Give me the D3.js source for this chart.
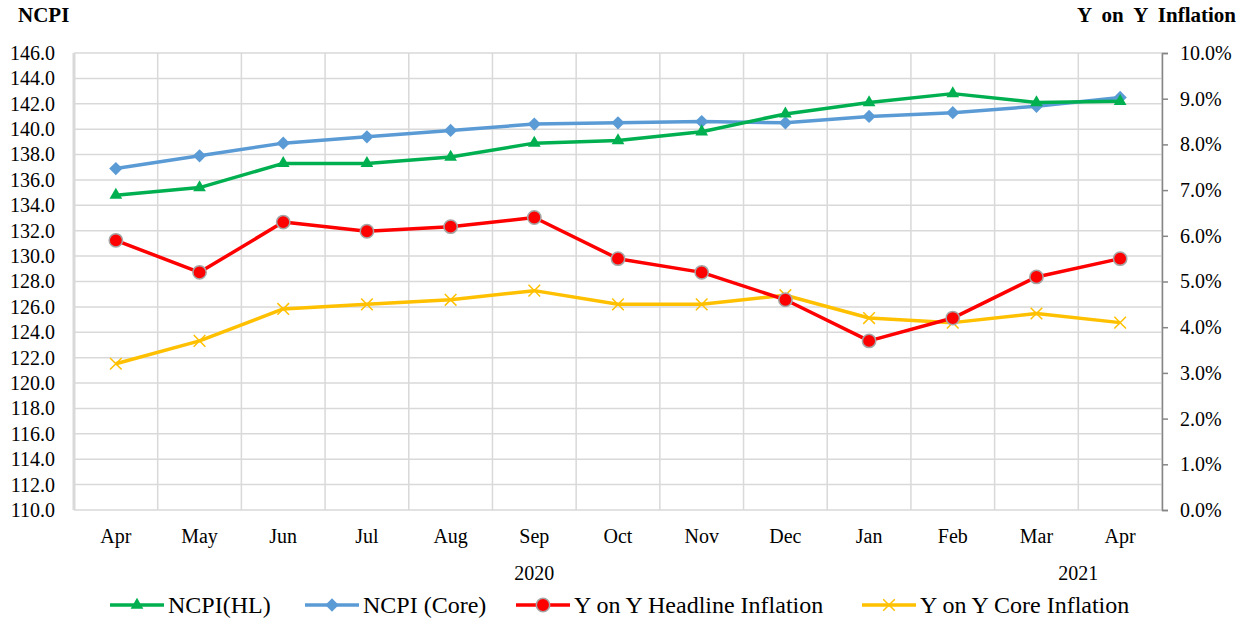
<!DOCTYPE html>
<html lang="en">
<head>
    <meta charset="UTF-8">
    <title>NCPI and Y on Y Inflation</title>
    <script src="https://d3js.org/d3.v7.min.js"></script>
    <style>
        body { margin: 0; background: #fff; }
        svg text { font-family: "Liberation Serif", "Times New Roman", serif !important; fill: #000; }
    </style>
</head>
<body>
<div id="chart"></div>
<script>
    // data
    const months = ["Apr", "May", "Jun", "Jul", "Aug", "Sep", "Oct", "Nov", "Dec", "Jan", "Feb", "Mar", "Apr"];
    const years = [{ label: "2020", from: 0, to: 10 }, { label: "2021", from: 11, to: 12 }];
    const ncpiHL = [134.8, 135.4, 137.3, 137.3, 137.8, 138.9, 139.1, 139.8, 141.2, 142.1, 142.8, 142.1, 142.2];
    const ncpiCore = [136.9, 137.9, 138.9, 139.4, 139.9, 140.4, 140.5, 140.6, 140.5, 141.0, 141.3, 141.8, 142.5];
    const yoyHeadline = [5.9, 5.2, 6.3, 6.1, 6.2, 6.4, 5.5, 5.2, 4.6, 3.7, 4.2, 5.1, 5.5];
    const yoyCore = [3.2, 3.7, 4.4, 4.5, 4.6, 4.8, 4.5, 4.5, 4.7, 4.2, 4.1, 4.3, 4.1];
    const leftTicks = d3.range(110, 146.1, 2);
    const rightTicks = d3.range(0, 10.1, 1);

    const width = 1253, height = 626;
    const m = { left: 74, right: 91, top: 53, bottom: 116 };
    const serif = '"Liberation Serif", "Times New Roman", serif';

    const svg = d3.select("#chart").append("svg")
        .attr("width", width)
        .attr("height", height);

    const x = d3.scaleBand()
        .domain(d3.range(months.length))
        .range([m.left, width - m.right])
        .padding(0);
    const yL = d3.scaleLinear().domain([110, 146]).range([height - m.bottom, m.top]);
    const yR = d3.scaleLinear().domain([0, 10]).range([height - m.bottom, m.top]);
    const cx = i => x(i) + x.bandwidth() / 2;

    // grid
    const grid = svg.append("g").attr("stroke", "#d9d9d9").attr("stroke-width", 1.5);
    grid.selectAll(".h").data(leftTicks).enter().append("line")
        .attr("x1", m.left).attr("x2", width - m.right)
        .attr("y1", d => yL(d)).attr("y2", d => yL(d));
    grid.selectAll(".v").data(d3.range(months.length + 1)).enter().append("line")
        .attr("x1", i => m.left + i * x.bandwidth()).attr("x2", i => m.left + i * x.bandwidth())
        .attr("y1", m.top).attr("y2", height - m.bottom);
    svg.append("line")
        .attr("x1", m.left).attr("x2", m.left)
        .attr("y1", m.top).attr("y2", height - m.bottom)
        .attr("stroke", "#d9d9d9").attr("stroke-width", 3);

    // left axis
    const gl = svg.append("g")
        .attr("transform", `translate(${m.left - 2},0)`)
        .call(d3.axisLeft(yL).tickValues(leftTicks).tickSize(0).tickPadding(17).tickFormat(d3.format(".1f")));
    gl.attr("font-family", serif);
    gl.select(".domain").remove();
    gl.selectAll("text").style("font-size", "20px").style("font-family", serif);

    // right axis
    const gr = svg.append("g")
        .attr("transform", `translate(${width - m.right},0)`)
        .call(d3.axisRight(yR).tickValues(rightTicks).tickSize(6).tickPadding(12).tickFormat(d => d.toFixed(1) + "%"));
    gr.attr("font-family", serif);
    gr.select(".domain").attr("stroke", "#868686").attr("stroke-width", 1.5);
    gr.selectAll(".tick line").attr("stroke", "#868686").attr("stroke-width", 1.5);
    gr.selectAll("text").style("font-size", "20px").style("font-family", serif);

    // category labels
    svg.append("g").selectAll("text").data(months).enter().append("text")
        .attr("x", (d, i) => cx(i))
        .attr("y", 543)
        .attr("text-anchor", "middle")
        .style("font-size", "20px")
        .text(d => d);
    svg.append("g").selectAll("text").data(years).enter().append("text")
        .attr("x", d => (cx(d.from) + cx(d.to)) / 2)
        .attr("y", 580)
        .attr("text-anchor", "middle")
        .style("font-size", "20px")
        .text(d => d.label);

    // axis titles
    svg.append("text").attr("x", 18).attr("y", 22)
        .style("font-size", "21px").style("font-weight", "bold").text("NCPI");
    svg.append("text").attr("x", 1236).attr("y", 22).attr("text-anchor", "end")
        .style("font-size", "21px").style("font-weight", "bold").style("word-spacing", "5px")
        .text("Y on Y Inflation");

    // markers
    const sq = d3.symbol().type(d3.symbolSquare).size(88);
    const tri = d3.symbol().type(d3.symbolTriangle).size(70);
    const circ = d3.symbol().type(d3.symbolCircle).size(140);
    const cross = d3.symbol().type(d3.symbolTimes || d3.symbolCross).size(90);

    const series = [
        { name: "NCPI(HL)", values: ncpiHL, y: yL, color: "#00b050", marker: g => g.append("path").attr("d", tri).attr("fill", "#00b050") },
        { name: "NCPI (Core)", values: ncpiCore, y: yL, color: "#5b9bd5", marker: g => g.append("path").attr("d", sq).attr("transform", "rotate(45)").attr("fill", "#5b9bd5") },
        { name: "Y on Y Headline Inflation", values: yoyHeadline, y: yR, color: "#ff0000", marker: g => g.append("path").attr("d", circ).attr("fill", "#ff0000").attr("stroke", "#a6a6a6").attr("stroke-width", 1.5) },
        { name: "Y on Y Core Inflation", values: yoyCore, y: yR, color: "#ffc000", marker: g => g.append("path").attr("d", cross).attr("fill", "none").attr("stroke", "#ffc000").attr("stroke-width", 1.5) }
    ];

    const drawOrder = [3, 2, 1, 0];
    drawOrder.forEach(k => {
        const s = series[k];
        const line = d3.line().x((d, i) => cx(i)).y(d => s.y(d));
        svg.append("path")
            .datum(s.values)
            .attr("d", line)
            .attr("fill", "none")
            .attr("stroke", s.color)
            .attr("stroke-width", 3.5)
            .attr("stroke-linejoin", "round");
        s.values.forEach((d, i) => {
            const g = svg.append("g").attr("transform", `translate(${cx(i)},${s.y(d)})`);
            s.marker(g);
        });
    });

    // legend
    const legendX = [110, 305, 516, 862];
    series.forEach((s, k) => {
        const g = svg.append("g").attr("transform", `translate(${legendX[k]},605)`);
        g.append("line").attr("x1", 0).attr("x2", 54)
            .attr("stroke", s.color).attr("stroke-width", 3.5);
        const mk = g.append("g").attr("transform", "translate(27,0)");
        s.marker(mk);
        g.append("text").attr("x", 58).attr("y", 8)
            .style("font-size", "24px")
            .text(s.name);
    });
</script>
</body>
</html>
